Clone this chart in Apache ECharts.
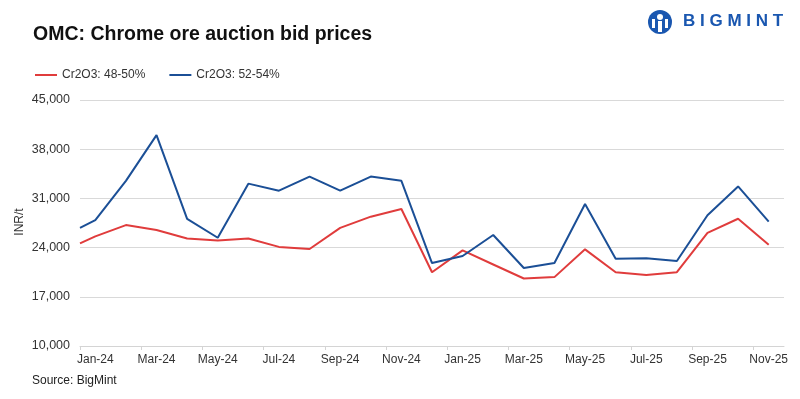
<!DOCTYPE html>
<html>
<head>
<meta charset="utf-8">
<script src="https://cdn.jsdelivr.net/npm/echarts@6/dist/echarts.min.js"></script>
<style>
html,body{margin:0;padding:0;background:#fff;}
#chart{width:800px;height:399px;}
</style>
</head>
<body>
<div id="chart"></div>
<script>
// Month positions: Jan-24 = 0; first observation sits half a month earlier
const xPositions = [-0.5, 0, 1, 2, 3, 4, 5, 6, 7, 8, 9, 10, 11, 12, 13, 14, 15, 16, 17, 18, 19, 20, 21, 22];
const cr4850 = [24600, 25600, 27200, 26500, 25300, 25000, 25300, 24100, 23800, 26800, 28400, 29500, 20500, 23600, 21600, 19600, 19800, 23750, 20500, 20100, 20500, 26100, 28100, 24400];
const cr5254 = [26800, 27900, 33500, 40000, 28100, 25400, 33100, 32100, 34100, 32100, 34100, 33500, 21800, 22800, 25800, 21100, 21800, 30200, 22400, 22500, 22100, 28600, 32700, 27700];
const tickLabels = ['Jan-24', 'Mar-24', 'May-24', 'Jul-24', 'Sep-24', 'Nov-24', 'Jan-25', 'Mar-25', 'May-25', 'Jul-25', 'Sep-25', 'Nov-25'];
const labelPositions = [0, 2, 4, 6, 8, 10, 12, 14, 16, 18, 20, 22];
const tickPositions = [-0.5, 1.5, 3.5, 5.5, 7.5, 9.5, 11.5, 13.5, 15.5, 17.5, 19.5, 21.5];
const seriesNames = ['Cr2O3: 48-50%', 'Cr2O3: 52-54%'];

const FONT = '"Liberation Sans", Arial, sans-serif';
const chart = echarts.init(document.getElementById('chart'), null, {renderer: 'canvas'});
const pairs = (ys) => ys.map((y, i) => [xPositions[i], y]);

chart.setOption({
  animation: false,
  backgroundColor: '#fff',
  title: {
    text: 'OMC: Chrome ore auction bid prices',
    left: 28, top: 20,
    textStyle: {fontFamily: FONT, fontSize: 19.5, fontWeight: 'bold', color: '#111'}
  },
  legend: {
    left: 30, top: 64,
    icon: 'rect', itemWidth: 22, itemHeight: 2, itemGap: 24,
    textStyle: {fontFamily: FONT, fontSize: 12, color: '#333'},
    data: seriesNames
  },
  grid: {left: 80, right: 16, top: 100, bottom: 53, containLabel: false},
  xAxis: {
    type: 'value', min: -0.5, max: 22.5,
    splitLine: {show: false},
    axisLine: {show: true, lineStyle: {color: '#d4d4d4', width: 1}},
    axisTick: {show: true, customValues: tickPositions, length: 4, lineStyle: {color: '#d4d4d4'}},
    axisLabel: {
      customValues: labelPositions,
      formatter: (v) => { const i = labelPositions.indexOf(Math.round(v)); return i >= 0 ? tickLabels[i] : ''; },
      fontFamily: FONT, fontSize: 12, color: '#333', margin: 8
    }
  },
  yAxis: {
    type: 'value', min: 10000, max: 45000, interval: 7000,
    axisLine: {show: false}, axisTick: {show: false},
    axisLabel: {
      fontFamily: FONT, fontSize: 12.5, color: '#333', margin: 10,
      formatter: (v) => v.toLocaleString('en-US')
    },
    splitLine: {lineStyle: {color: '#d9d9d9', width: 1}}
  },
  graphic: [
    {type: 'text', x: 20, y: 222, rotation: Math.PI / 2, style: {text: 'INR/t', fontFamily: FONT, fontSize: 12, fill: '#333', align: 'center', verticalAlign: 'middle'}},
    {type: 'text', left: 32, top: 375, style: {text: 'Source: BigMint', fontFamily: FONT, fontSize: 12, fill: '#222'}},
    {type: 'group', left: 648, top: 10, children: [
      {type: 'circle', shape: {cx: 12, cy: 12, r: 12}, style: {fill: '#1a57b0'}},
      {type: 'circle', shape: {cx: 12, cy: 7, r: 3}, style: {fill: '#fff'}},
      {type: 'rect', shape: {x: 10, y: 11, width: 4, height: 11}, style: {fill: '#fff'}},
      {type: 'rect', shape: {x: 4, y: 9, width: 3, height: 9}, style: {fill: '#fff'}},
      {type: 'rect', shape: {x: 17, y: 9, width: 3, height: 9}, style: {fill: '#fff'}}
    ]},
    {type: 'text', left: 683, top: 13, style: {text: 'B I G M I N T', fontFamily: FONT, fontSize: 17, fontWeight: 'bold', fill: '#1a57b0'}}
  ],
  series: [
    {name: seriesNames[0], type: 'line', data: pairs(cr4850), symbol: 'none', lineStyle: {color: '#e03c3c', width: 2}, itemStyle: {color: '#e03c3c'}},
    {name: seriesNames[1], type: 'line', data: pairs(cr5254), symbol: 'none', lineStyle: {color: '#1b4f96', width: 2}, itemStyle: {color: '#1b4f96'}}
  ]
});
</script>
</body>
</html>
